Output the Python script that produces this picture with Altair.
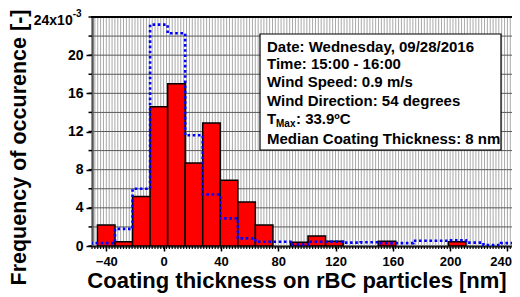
import altair as alt
import pandas as pd

# ---------------- data ----------------
BIN_START = -46.2
BIN_WIDTH = 12.25

# red histogram (x10^-3), one value per bin starting at BIN_START
red_counts = [2.2, 0.45, 5.2, 14.6, 17.0, 8.7, 12.9, 6.9, 4.6, 2.2,
              0.0, 0.4, 1.05, 0.5, 0.0, 0.0, 0.5, 0.0, 0.0, 0.0, 0.45]

# blue dotted outline (x10^-3); first value is the bin before BIN_START
blue_counts = [0.3, 0.3, 1.8, 6.0, 23.2, 22.3, 11.6, 5.4, 2.9, 0.8,
               0.45, 0.45, 0.15, 0.45, 0.45, 0.35, 0.4, 0.3, 0.3, 0.55,
               0.55, 0.6, 0.35, 0.1, 0.3, 0.3]

X_MIN, X_MAX = -50, 243.2
Y_MIN, Y_MAX = 0, 24
x_labels = [-40, 0, 40, 80, 120, 160, 200, 240]
x_grid = list(range(-50, 244, 2))
y_labels = [0, 4, 8, 12, 16, 20]
y_grid = list(range(0, 25, 2))

info_lines = ["Date: Wednesday, 09/28/2016",
              "Time: 15:00 - 16:00",
              "Wind Speed: 0.9 m/s",
              "Wind Direction: 54 degrees",
              "Median Coating Thickness: 8 nm"]
tmax_parts = ["T", "Max", ": 33.9\u00baC"]

FONT = "Liberation Sans"
W, H = 420, 229

# ---------------- tables ----------------
red_df = pd.DataFrame({
    "x0": [BIN_START + BIN_WIDTH * i for i in range(len(red_counts))],
    "x1": [BIN_START + BIN_WIDTH * (i + 1) for i in range(len(red_counts))],
    "v": red_counts,
})
red_df["zero"] = 0.0
red_df = red_df[red_df["v"] > 0]

bx = [BIN_START + BIN_WIDTH * (i - 1) for i in range(len(blue_counts) + 1)]
bv = blue_counts + [blue_counts[-1]]
blue_df = pd.DataFrame({"x": bx, "v": bv})

vgrid_df = pd.DataFrame({"g": x_grid, "lo": Y_MIN, "hi": Y_MAX})
hgrid_df = pd.DataFrame({"g": y_grid, "lo": X_MIN, "hi": X_MAX})

xscale = alt.Scale(domain=[X_MIN, X_MAX], nice=False, zero=False)
yscale = alt.Scale(domain=[Y_MIN, Y_MAX], nice=False)

X_TITLE = "Coating thickness on rBC particles [nm]"
Y_TITLE = "Frequency of occurence [-]"

last_label = "datum.value == %d" % x_labels[-1]
x_axis = alt.Axis(
    values=x_labels, labelOverlap=False, labelFlush=False, grid=False,
    tickSize=5, tickWidth=1.5, tickColor="black",
    labelPadding=4, labelFontSize=13, labelBaseline="top",
    labelAlign={"condition": {"test": last_label, "value": "right"}, "value": "center"},
    labelOffset={"condition": {"test": last_label, "value": 4}, "value": 0},
    title=X_TITLE,
    titleFontSize=22, titleX=204.5, titleY=41.5, titleBaseline="alphabetic",
    titleAlign="center",
)
y_axis = alt.Axis(
    values=y_labels, labelOverlap=False, labelFlush=False, grid=False,
    tickSize=6, tickWidth=1.5, tickColor="black",
    labelPadding=3, labelFontSize=14,
    title=Y_TITLE,
    titleFontSize=21.5, titleX=-84, titleY=130, titleBaseline="top",
    titleAlign="center", titleAngle=270,
)


def X(field):
    return alt.X(field, type="quantitative", scale=xscale, axis=x_axis, title=X_TITLE)


def Y(field):
    return alt.Y(field, type="quantitative", scale=yscale, axis=y_axis, title=Y_TITLE)


# grid lines and minor ticks (drawn through the scales)
vgrid = alt.Chart(vgrid_df).mark_rule(color="#a8a8a8", strokeWidth=1).encode(
    x=X("g"), y=Y("lo"), y2="hi:Q"
)
hgrid = alt.Chart(hgrid_df).mark_rule(color="#5a5a5a", strokeWidth=1).encode(
    y=Y("g"), x=X("lo"), x2="hi:Q"
)
xminor = alt.Chart(vgrid_df).mark_rule(color="black", strokeWidth=1.2).encode(
    x=X("g"), y=alt.value(H), y2=alt.value(H + 3)
)
yminor = alt.Chart(hgrid_df).mark_rule(color="black", strokeWidth=1.5).encode(
    y=Y("g"), x=alt.value(-3.5), x2=alt.value(0)
)

bars = alt.Chart(red_df).mark_rect(
    fill="#ff0000", stroke="black", strokeWidth=1.5, clip=True
).encode(
    x=X("x0"), x2="x1:Q", y=Y("v"), y2="zero:Q",
)

blue = alt.Chart(blue_df).mark_line(
    interpolate="step-after", color="#0000ff", strokeWidth=2.6,
    strokeDash=[2.6, 2.6], clip=True
).encode(
    x=X("x"), y=Y("v"),
)

base = alt.Chart(pd.DataFrame({"a": [0]}))

top_border = base.mark_rule(color="black", strokeWidth=2).encode(
    x=alt.value(-1), x2=alt.value(W), y=alt.value(0)
)

box = base.mark_rect(fill="white", stroke="black", strokeWidth=1.2).encode(
    x=alt.value(168), x2=alt.value(409), y=alt.value(17), y2=alt.value(133)
)

row_y = [29.7, 47.3, 65.3, 83.7, 122.3]
texts = []
for line, yy in zip(info_lines, row_y):
    texts.append(base.mark_text(
        text=line, align="left", baseline="middle", font=FONT,
        fontWeight="bold", fontSize=15, color="black"
    ).encode(x=alt.value(175), y=alt.value(yy)))

tmax_x = [175, 184, 204]
tmax_y = [102.0, 106.5, 102.0]
tmax_fs = [15, 10, 15]
for part, xx, yy, fs in zip(tmax_parts, tmax_x, tmax_y, tmax_fs):
    texts.append(base.mark_text(
        text=part, align="left", baseline="middle", font=FONT,
        fontWeight="bold", fontSize=fs, color="black"
    ).encode(x=alt.value(xx), y=alt.value(yy)))

top_label = base.mark_text(
    text="24x10", align="right", baseline="middle", font=FONT,
    fontWeight="bold", fontSize=14, color="black"
).encode(x=alt.value(-19.3), y=alt.value(4.3))
top_exp = base.mark_text(
    text="-3", align="left", baseline="middle", font=FONT,
    fontWeight="bold", fontSize=10, color="black"
).encode(x=alt.value(-19.3), y=alt.value(-3.5))

chart = alt.layer(
    vgrid, hgrid, bars, blue, xminor, yminor, top_border, box,
    *texts, top_label, top_exp
).properties(
    width=W, height=H,
    autosize=alt.AutoSizeParams(type="none"),
    padding={"left": 84, "top": 9, "right": 0, "bottom": 47},
).configure_view(
    stroke=None
).configure_axis(
    labelFont=FONT, labelFontWeight="bold", labelColor="black",
    titleFont=FONT, titleFontWeight="bold", titleColor="black",
    domainColor="black", domainWidth=2,
)

chart.save("out.html", embed_options={"renderer": "svg", "actions": False})
